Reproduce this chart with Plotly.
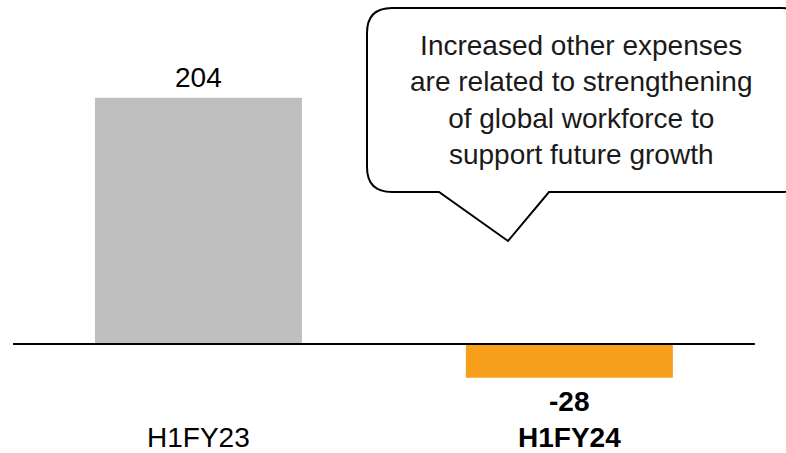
import plotly.graph_objects as go

W, H = 786, 453

categories = ['H1FY23', 'H1FY24']
values = [204, -28]
colors = ['#BFBFBF', '#F79E1B']
bold = [False, True]
note = ('Increased other expenses<br>are related to strengthening<br>'
        'of global workforce to<br>support future growth')

FONT = 'Liberation Sans, Arial, sans-serif'


def px(x, y):
    # pixel -> paper coords
    return x / W, 1 - y / H


def path_from(points):
    out = []
    for cmd, p in points:
        out.append('%s %.5f,%.5f' % ((cmd,) + px(*p)))
    return ' '.join(out) + ' Z'


fig = go.Figure()
fig.add_trace(go.Bar(x=categories, y=values, marker_color=colors,
                     marker_line_width=0, width=0.558, hoverinfo='skip'))

# value labels and category labels
for c, v, b in zip(categories, values, bold):
    t = '<b>%d</b>' % v if b else '%d' % v
    fig.add_annotation(x=c, y=v, text=t, showarrow=False,
                       yshift=20 if v > 0 else -24,
                       font=dict(family=FONT, size=28, color='black'))
    lab = '<b>%s</b>' % c if b else c
    fig.add_annotation(x=c, y=0, text=lab, showarrow=False, yshift=-94,
                       font=dict(family=FONT, size=28, color='black'))

# baseline
fig.add_shape(type='line', xref='x', yref='y', x0=-0.5, x1=1.5, y0=0, y1=0,
              line=dict(color='black', width=2))

# speech bubble (rounded box with a tail)
L, T, R, B, r = 367, 8, 806, 192, 25
bubble = [
    ('M', (L + r, T)),
    ('L', (R - r, T)),
    ('Q', None),
]
d = ('M {a} L {b} Q {c} {d} L {e} Q {f} {g} L {h} L {i} L {j} L {k} '
     'Q {l} {m} L {n} Q {o} {p} Z')
pts = dict(a=(L + r, T), b=(R - r, T), c=(R, T), d=(R, T + r), e=(R, B - r),
           f=(R, B), g=(R - r, B), h=(549, B), i=(508, 241), j=(439, B),
           k=(L + r, B), l=(L, B), m=(L, B - r), n=(L, T + r), o=(L, T),
           p=(L + r, T))
path = d.format(**{k: '%.5f,%.5f' % px(*v) for k, v in pts.items()})
fig.add_shape(type='path', xref='paper', yref='paper', path=path,
              fillcolor='white', line=dict(color='black', width=2), layer='above')
cx, cy = px(580.5, 100)
fig.add_annotation(xref='paper', yref='paper', x=cx, y=cy, text=note,
                   showarrow=False, align='center', xanchor='center', yanchor='middle',
                   font=dict(family=FONT, size=28, color='#1a1a1a'))

fig.update_layout(
    width=W, height=H, margin=dict(l=0, r=0, t=0, b=0),
    paper_bgcolor='white', plot_bgcolor='white', showlegend=False,
    xaxis=dict(type='category', range=[-0.535, 1.584], visible=False),
    yaxis=dict(range=[-90.3, 284.9], visible=False),
)

fig.write_html('out.html', config={'displayModeBar': False},
               post_script="document.body.style.margin='0';")
